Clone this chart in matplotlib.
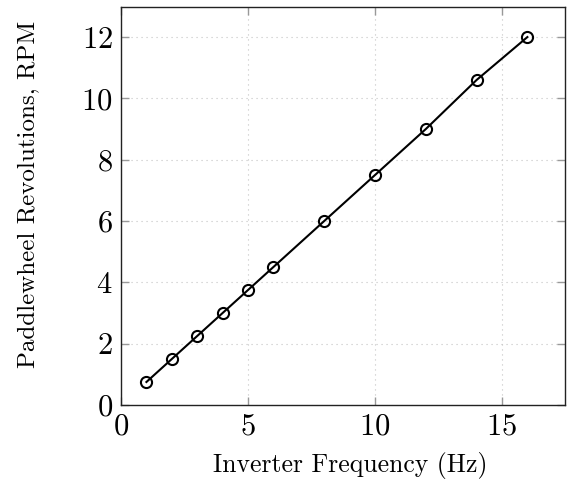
import matplotlib
matplotlib.use("Agg")
import matplotlib.pyplot as plt

# inverter frequency vs paddlewheel speed
freq_hz = [1, 2, 3, 4, 5, 6, 8, 10, 12, 14, 16]
rpm = [0.75, 1.5, 2.25, 3.0, 3.75, 4.5, 6.0, 7.5, 9.0, 10.6, 12.0]
x_ticks = [0, 5, 10, 15]
y_ticks = [0, 2, 4, 6, 8, 10, 12]

plt.rcParams["font.family"] = "serif"
plt.rcParams["font.serif"] = ["cmr10", "DejaVu Serif"]
plt.rcParams["mathtext.fontset"] = "cm"
plt.rcParams["axes.formatter.use_mathtext"] = True

fig = plt.figure(figsize=(5.73, 4.83), dpi=100)
ax = fig.add_axes([0.2112, 0.1615, 0.986 - 0.2112, 0.9855 - 0.1615])

ax.plot(freq_hz, rpm, color="black", linewidth=1.5, marker="o", markersize=8,
        markerfacecolor="none", markeredgecolor="black", markeredgewidth=1.5)

ax.set_xlim(0, 17.48)
ax.set_ylim(0, 12.98)
ax.set_xticks(x_ticks)
ax.set_yticks(y_ticks)
ax.grid(True, linestyle=(0, (1, 3.5)), color="#c4c4c4", linewidth=0.8)
ax.tick_params(direction="in", top=True, right=True, length=6, width=1,
               color="#999999", labelsize=22, pad=6)
for s in ax.spines.values():
    s.set_linewidth(1.0)
    s.set_color("#222222")

ax.set_xlabel("Inverter Frequency (Hz)", fontsize=18.5, labelpad=8)
ax.set_ylabel("Paddlewheel Revolutions, RPM", fontsize=18, labelpad=30)
ax.xaxis.label.set_x(0.516)
ax.yaxis.label.set_y(0.529)

fig.savefig("out.png", dpi=100)
